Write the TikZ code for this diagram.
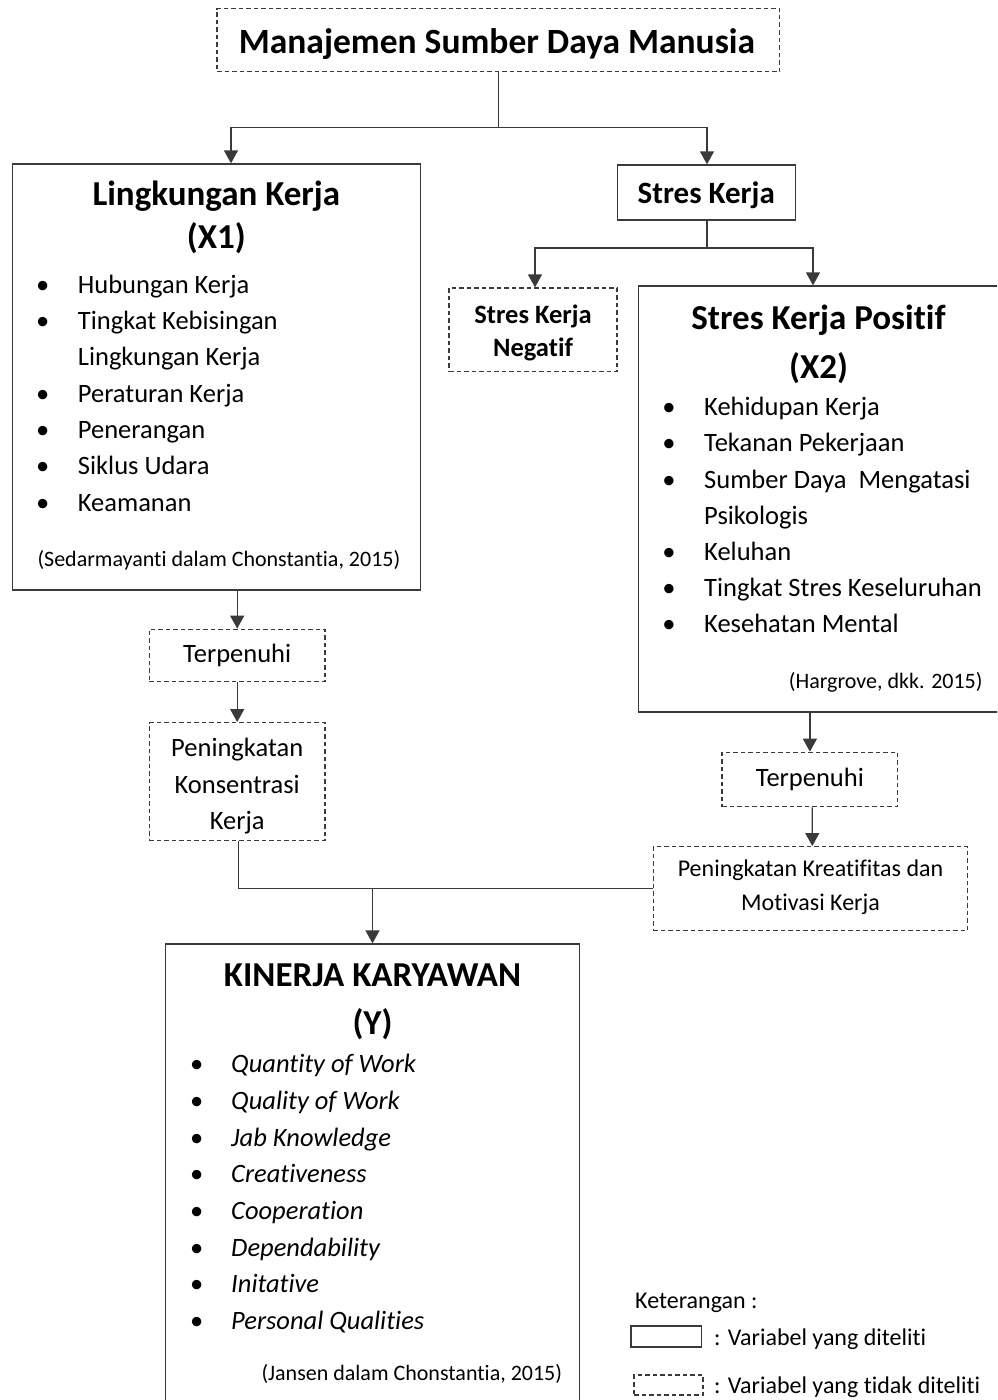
\documentclass[tikz,border=0pt]{standalone}
\usepackage{fontspec}
\setmainfont{Carlito}[Ligatures=CommonOff]
\usetikzlibrary{arrows.meta}
\definecolor{lnc}{HTML}{3A3A3A}
\newcommand\fbody{\fontsize{26.5}{32}\selectfont}
\newcommand\fhead{\fontsize{35}{40}\selectfont\bfseries}
\newcommand\fmain{\fontsize{35.5}{40}\selectfont\bfseries}
\newcommand\fcite{\fontsize{22}{26}\selectfont}
\newcommand\fpkm{\fontsize{24}{28}\selectfont}
\newcommand\fleg{\fontsize{24}{28}\selectfont}
\tikzset{
  box/.style={draw=lnc, line width=1.3pt, inner sep=0pt, rectangle},
  dbox/.style={box, dash pattern=on 4.5pt off 3pt},
  conn/.style={draw=lnc, line width=1.3pt},
  arr/.style={conn, -{Triangle[width=14pt,length=13pt]}},
  tw/.style={inner sep=0pt, anchor=base west, font=\fbody},
  tc/.style={inner sep=0pt, anchor=base},
  bul/.style={inner sep=0pt, anchor=base, font=\fbody},
}
\begin{document}
\begin{tikzpicture}[x=1pt,y=-1pt]
\useasboundingbox (0,0) rectangle (997,1400);
\clip (0,0) rectangle (997,1400);
% ---------- boxes ----------
\node[dbox, minimum width=562.8pt, minimum height=63.2pt] (msdm) at (498.4,40.1) {};
\node[box, minimum width=408.4pt, minimum height=426pt] (lk) at (216.5,377) {};
\node[box, minimum width=178.4pt, minimum height=55pt] (sk) at (706.5,192.5) {};
\node[dbox, minimum width=168pt, minimum height=83.7pt] (neg) at (533,329.9) {};
\node[box, minimum width=360.7pt, minimum height=426pt] (pos) at (818.6,499) {};
\node[dbox, minimum width=175.7pt, minimum height=52pt] (terp1) at (237.2,655.3) {};
\node[dbox, minimum width=175.7pt, minimum height=117.8pt] (pkk) at (237.2,781.6) {};
\node[dbox, minimum width=175.7pt, minimum height=54.4pt] (terp2) at (809.9,779.5) {};
\node[dbox, minimum width=314.4pt, minimum height=84pt] (pkm) at (810.5,888.7) {};
\node[box, minimum width=413.6pt, minimum height=461pt] (kk) at (372.5,1174.5) {};
\node[box, minimum width=70.7pt, minimum height=21pt] (leg1) at (666.3,1336.5) {};
\node[dbox, minimum width=69pt, minimum height=20pt] (leg2) at (668.5,1385) {};
% ---------- texts ----------
\node[tc, font=\fmain] (ttl) at (497,53.3) {Manajemen Sumber Daya Manusia};
% Lingkungan Kerja
\node[tc, font=\fhead] (lkt1) at (216.3,205) {Lingkungan Kerja};
\node[tc, font=\fhead] (lkt2) at (216.3,248.5) {(X1)};
\foreach \n/\y/\b/\s in {1/293.3/1/Hubungan Kerja, 2/329.6/1/Tingkat Kebisingan, 3/365.9/0/Lingkungan Kerja, 4/402.2/1/Peraturan Kerja, 5/438.5/1/Penerangan, 6/474.8/1/Siklus Udara, 7/511.1/1/Keamanan}{
  \node[tw] (lki\n) at (77.7,\y) {\s};
  \ifnum\b=1 \node[bul] (lkb\n) at (42.7,\y) {\textbullet}; \fi
}
\node[inner sep=0pt, anchor=base west, font=\fcite] (lkc) at (37.3,566) {(Sedarmayanti dalam Chonstantia, 2015)};
% Stres Kerja
\node[tc, font=\fontsize{31}{36}\selectfont\bfseries] (skt) at (706.3,203) {Stres Kerja};
\node[tc, font=\fontsize{26.5}{32}\selectfont\bfseries] (negt1) at (533,323.3) {Stres Kerja};
\node[tc, font=\fontsize{26.5}{32}\selectfont\bfseries] (negt2) at (533,356.7) {Negatif};
% Stres Kerja Positif
\node[tc, font=\fhead] (post1) at (818.5,329.3) {Stres Kerja Positif};
\node[tc, font=\fhead] (post2) at (818.5,378) {(X2)};
\foreach \n/\y/\b/\s in {1/415.7/1/Kehidupan Kerja, 2/451.9/1/Tekanan Pekerjaan, 3/488.1/1/Sumber Daya\ \ Mengatasi, 4/524.3/0/Psikologis, 5/560.5/1/Keluhan, 6/596.7/1/Tingkat Stres Keseluruhan, 7/632.9/1/Kesehatan Mental}{
  \node[tw] (posi\n) at (704,\y) {\s};
  \ifnum\b=1 \node[bul] (posb\n) at (669,\y) {\textbullet}; \fi
}
\node[inner sep=0pt, anchor=base east, font=\fcite] (posc) at (982.7,688) {(Hargrove, dkk. 2015)};
% Terpenuhi / Peningkatan
\node[tc, font=\fbody] (terp1t) at (237.2,662) {Terpenuhi};
\node[tc, font=\fbody] (pkkt1) at (237.2,756.7) {Peningkatan};
\node[tc, font=\fbody] (pkkt2) at (237.2,793) {Konsentrasi};
\node[tc, font=\fbody] (pkkt3) at (237.2,829.3) {Kerja};
\node[tc, font=\fbody] (terp2t) at (809.9,786) {Terpenuhi};
\node[tc, font=\fpkm] (pkmt1) at (810.5,876.7) {Peningkatan Kreatifitas dan};
\node[tc, font=\fpkm] (pkmt2) at (810.5,910) {Motivasi Kerja};
% Kinerja Karyawan
\node[tc, font=\fhead] (kkt1) at (372.5,986.7) {KINERJA KARYAWAN};
\node[tc, font=\fhead] (kkt2) at (372.5,1034) {(Y)};
\foreach \n/\y/\s in {1/1072.7/Quantity of Work, 2/1109.4/Quality of Work, 3/1146/Jab Knowledge, 4/1182.7/Creativeness, 5/1219.3/Cooperation, 6/1256/Dependability, 7/1292.7/Initative, 8/1329.3/Personal Qualities}{
  \node[tw, font=\fbody\itshape] (kki\n) at (231,\y) {\s};
  \node[bul] (kkb\n) at (196.7,\y) {\textbullet};
}
\node[inner sep=0pt, anchor=base east, font=\fcite] (kkc) at (562.3,1380) {(Jansen dalam Chonstantia, 2015)};
% Legend
\node[inner sep=0pt, anchor=base west, font=\fleg] (legt) at (635,1308) {Keterangan :};
\node[inner sep=0pt, anchor=base west, font=\fleg] (leg1t) at (714,1345.5) {: Variabel yang diteliti};
\node[inner sep=0pt, anchor=base west, font=\fleg] (leg2t) at (714,1393.5) {: Variabel yang tidak diteliti};
% ---------- connectors ----------
\coordinate (j1) at (498.4,127.3);
\draw[conn] (msdm.south) -- (j1);
\draw[arr] (j1) -| ([xshift=14.5pt]lk.north);
\draw[arr] (j1) -| ([xshift=0.5pt]sk.north);
\coordinate (j2) at (707,248);
\draw[conn] (sk.south -| j2) -- (j2);
\draw[arr] (j2) -| ([xshift=2pt]neg.north);
\draw[arr] (j2) -| ([xshift=-5.6pt]pos.north);
\draw[arr] (lk.south -| terp1.north) -- (terp1.north);
\draw[arr] (terp1.south) -- (pkk.north);
\draw[conn] ([xshift=1.5pt]pkk.south) |- (pkm.west);
\draw[arr] (kk.north |- pkm.west) -- (kk.north);
\draw[arr] (pos.south -| terp2.north) -- (terp2.north);
\draw[arr] ([xshift=2.4pt]terp2.south) -- ([xshift=1.8pt]pkm.north);
\end{tikzpicture}
\end{document}
